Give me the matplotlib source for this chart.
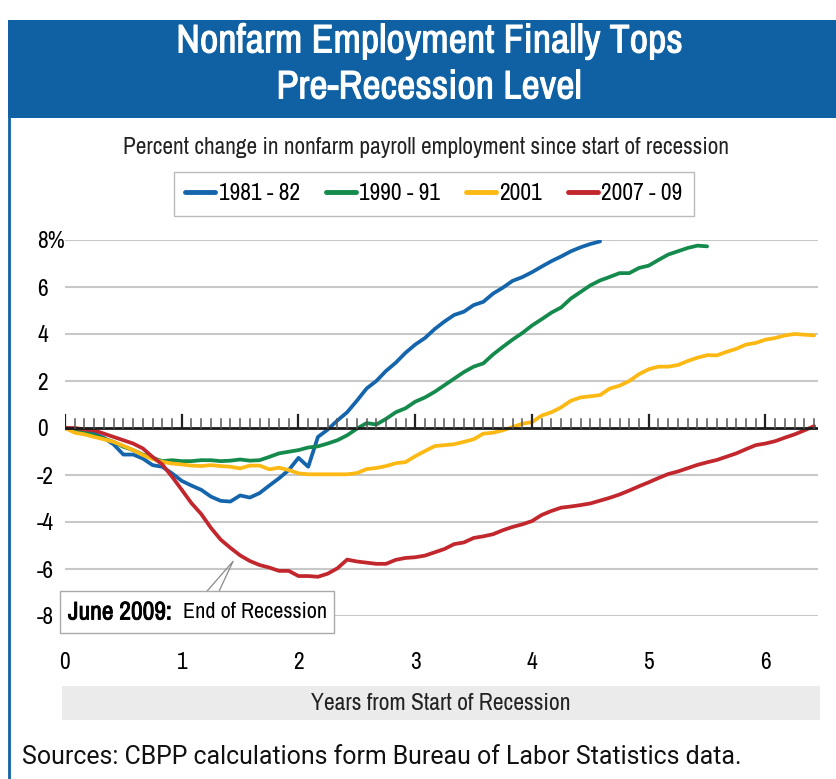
import numpy as np
import matplotlib
matplotlib.use('Agg')
import matplotlib.pyplot as plt
import matplotlib.patheffects as pe
from matplotlib import font_manager
from matplotlib.font_manager import FontProperties
from matplotlib.patches import Rectangle
from matplotlib.lines import Line2D

# monthly % change in nonfarm payroll employment since start of recession
r1981 = [0, -0.06, -0.14, -0.24, -0.42, -0.7, -1.13, -1.13, -1.3, -1.58,
         -1.65, -1.93, -2.25, -2.45, -2.63, -2.92, -3.1, -3.13, -2.87, -2.96,
         -2.77, -2.45, -2.14, -1.79, -1.27, -1.65, -0.38, -0.07, 0.32, 0.67,
         1.16, 1.68, 2.0, 2.43, 2.78, 3.2, 3.55, 3.83, 4.21, 4.53,
         4.81, 4.95, 5.23, 5.37, 5.72, 5.97, 6.26, 6.42, 6.63, 6.87,
         7.1, 7.3, 7.52, 7.69, 7.83, 7.94]
r1990 = [0, -0.1, -0.2, -0.31, -0.45, -0.59, -0.8, -0.94, -1.13, -1.27,
         -1.41, -1.37, -1.41, -1.41, -1.37, -1.37, -1.41, -1.39, -1.34, -1.39,
         -1.37, -1.23, -1.08, -1.01, -0.94, -0.83, -0.78, -0.66, -0.52, -0.31,
         -0.03, 0.21, 0.15, 0.39, 0.67, 0.84, 1.12, 1.3, 1.54, 1.82,
         2.1, 2.38, 2.61, 2.75, 3.13, 3.45, 3.76, 4.04, 4.36, 4.63,
         4.91, 5.13, 5.51, 5.79, 6.07, 6.28, 6.43, 6.59, 6.59, 6.81,
         6.91, 7.15, 7.38, 7.52, 7.66, 7.76, 7.73]
r2001 = [0, -0.2, -0.27, -0.38, -0.48, -0.59, -0.76, -0.94, -1.15, -1.32,
         -1.44, -1.51, -1.55, -1.6, -1.62, -1.58, -1.62, -1.65, -1.72, -1.6,
         -1.6, -1.76, -1.69, -1.79, -1.93, -1.97, -1.97, -1.97, -1.97, -1.97,
         -1.92, -1.75, -1.7, -1.62, -1.5, -1.45, -1.2, -0.98, -0.77, -0.73,
         -0.69, -0.59, -0.48, -0.24, -0.2, -0.1, 0.04, 0.18, 0.25, 0.53,
         0.67, 0.88, 1.16, 1.3, 1.35, 1.4, 1.68, 1.8, 2.0, 2.29,
         2.5, 2.61, 2.61, 2.68, 2.85, 2.99, 3.1, 3.09, 3.24, 3.37,
         3.55, 3.62, 3.76, 3.83, 3.94, 4.0, 3.97, 3.94]
r2007 = [0, 0, -0.06, -0.1, -0.24, -0.38, -0.52, -0.66, -0.87, -1.23,
         -1.55, -2.07, -2.63, -3.2, -3.66, -4.25, -4.75, -5.1, -5.42, -5.66,
         -5.83, -5.94, -6.08, -6.08, -6.3, -6.3, -6.33, -6.2, -5.97, -5.6,
         -5.68, -5.73, -5.78, -5.78, -5.61, -5.53, -5.5, -5.43, -5.29, -5.15,
         -4.94, -4.87, -4.68, -4.61, -4.52, -4.35, -4.21, -4.1, -3.96, -3.7,
         -3.53, -3.39, -3.34, -3.28, -3.21, -3.09, -2.97, -2.83, -2.66, -2.48,
         -2.31, -2.13, -1.96, -1.85, -1.71, -1.57, -1.46, -1.36, -1.22, -1.08,
         -0.9, -0.73, -0.66, -0.56, -0.41, -0.27, -0.1, 0.08]

series = [r1981, r1990, r2001, r2007]
labels = ['1981 - 82', '1990 - 91', '2001', '2007 - 09']
colors = ['#1565ad', '#148a4c', '#fdb913', '#c1272d']

yticks = [-8, -6, -4, -2, 0, 2, 4, 6, 8]
ytick_labels = ['-8', '-6', '-4', '-2', '0', '2', '4', '6', '8%']
xticks = [0, 1, 2, 3, 4, 5, 6]
end_month = 18  # June 2009 in the 2007-09 recession

W, H = 837, 779


def pick_narrow():
  '''Find a condensed face if one is installed, otherwise a plain sans.'''
  for f in font_manager.fontManager.ttflist:
    if 'Narrow' in f.name or 'Condensed' in f.name:
      return {'family': f.name, 'stretch': 'normal'}
  for f in font_manager.fontManager.ttflist:
    if str(f.stretch) in ('condensed', 'semi-condensed'):
      return {'family': f.name, 'stretch': str(f.stretch)}
  return {'family': 'Liberation Sans', 'stretch': 'normal'}


narrow = pick_narrow()


def nfont(size, weight='normal'):
  return dict(family=narrow['family'], fontstretch=narrow['stretch'],
              fontsize=size, fontweight=weight)


def fx(px):
  return px / W


def fy(py):
  return 1 - py / H


fig = plt.figure(figsize=(W / 100, H / 100), dpi=100)
renderer = fig.canvas.get_renderer()


def fit(t, width_px):
  '''Scale a text so that it spans width_px pixels.'''
  bb = t.get_window_extent(renderer)
  t.set_fontsize(t.get_fontsize() * width_px / bb.width)
  return t


def heavy(color, w=0.7):
  # the condensed face has no bold, so thicken it with a thin stroke
  return [pe.withStroke(linewidth=w, foreground=color)]


# title band and frame
fig.patches.append(Rectangle((fx(8), fy(118)), fx(829), 98 / H, transform=fig.transFigure,
                             facecolor='#0f61a4', edgecolor='none'))
fig.add_artist(Line2D([fx(9), fx(9)], [0, fy(118)], color='#0f61a4', lw=2))
t1 = fig.text(fx(429), fy(41), 'Nonfarm Employment Finally Tops', ha='center', va='center',
              color='white', path_effects=heavy('white'), **nfont(20, 'bold'))
t2 = fig.text(fx(429), fy(87), 'Pre-Recession Level', ha='center', va='center',
              color='white', path_effects=heavy('white'), **nfont(20, 'bold'))
fit(t1, 506)
t2.set_fontsize(t1.get_fontsize())
sub = fig.text(fx(426), fy(147), 'Percent change in nonfarm payroll employment since start of recession',
               ha='center', va='center', color='#222222', **nfont(15))
fit(sub, 608)
k = sub.get_fontsize() / 15.0

# x label band
fig.patches.append(Rectangle((fx(62), fy(720)), fx(758), 34 / H, transform=fig.transFigure,
                             facecolor='#ebebeb', edgecolor='none'))
xl = fig.text(fx(441), fy(704), 'Years from Start of Recession', ha='center', va='center',
              color='#222222', **nfont(15))
fit(xl, 260)
src = fig.text(fx(22), fy(757), 'Sources: CBPP calculations form Bureau of Labor Statistics data.',
               ha='left', va='center', color='#111111', family='Roboto', fontsize=14)
fit(src, 724)

ax = fig.add_axes([fx(65), fy(616), 753 / W, 376 / H])
ax.set_xlim(0, 6.45)
ax.set_ylim(-8, 8)
for s in ax.spines.values():
  s.set_visible(False)

for v in yticks:
  if v != 0:
    ax.axhline(v, xmin=-0.005, color='#c8c8c8', lw=1.5, zorder=1)

for i, (vals, c) in enumerate(zip(series, colors)):
  t = np.arange(len(vals)) / 12
  ax.plot(t, vals, color=c, lw=2.7, label=labels[i], zorder=3, solid_capstyle='round')

# zero line with monthly ticks
ax.axhline(0, color='#1a1a1a', lw=2, zorder=4)
months = np.arange(0, 78)
for m in months:
  major = m % 12 == 0
  ax.plot([m / 12, m / 12], [0, 0.55 if major else 0.38], color='#222222' if major else '#555555',
          lw=1.6 if major else 1.1, zorder=4)

tick_size = max(15 * k, 13.5)
ax.set_yticks(yticks)
ax.set_yticklabels(ytick_labels, ha='left', family=narrow['family'],
                   fontstretch=narrow['stretch'], fontsize=tick_size)
ax.tick_params(axis='y', length=0, pad=20)
ax.set_xticks(xticks)
ax.set_xticklabels([str(x) for x in xticks], family=narrow['family'],
                   fontstretch=narrow['stretch'], fontsize=tick_size)
ax.tick_params(axis='x', length=0, pad=26)

# callout for end of recession
px, py = end_month / 12, r2007[end_month]
ax.plot([1.217, px - 0.06, 1.32], [-6.94, py - 0.25, -6.94], color='#8a8a8a', lw=0.9, zorder=5,
        clip_on=False)
fig.patches.append(Rectangle((fx(60), fy(633)), 274 / W, 42 / H, transform=fig.transFigure,
                             facecolor='white', edgecolor='#aaaaaa', lw=1, zorder=6))
a1 = fig.text(fx(68), fy(612), 'June 2009:', ha='left', va='center', zorder=7,
              path_effects=heavy('black', 0.6), **nfont(16, 'bold'))
a2 = fig.text(fx(183), fy(612), 'End of Recession', ha='left', va='center', zorder=7,
              **nfont(16))
fit(a1, 104)
fit(a2, 144)

leg_size = 15 * k
leg = fig.legend(*ax.get_legend_handles_labels(), loc='center', ncol=4,
                 bbox_to_anchor=(fx(434), fy(194)), frameon=True, fancybox=False,
                 handlelength=30 / (leg_size * 100 / 72), handletextpad=0.15, columnspacing=1.1,
                 prop=FontProperties(family=narrow['family'], stretch=narrow['stretch'],
                                     size=leg_size),
                 borderpad=0.5)
leg.get_frame().set_edgecolor('#aaaaaa')
leg.get_frame().set_linewidth(1)
for line in leg.get_lines():
  line.set_linewidth(3.5)
  line.set_solid_capstyle('round')

fig.savefig('out.png', dpi=100)
